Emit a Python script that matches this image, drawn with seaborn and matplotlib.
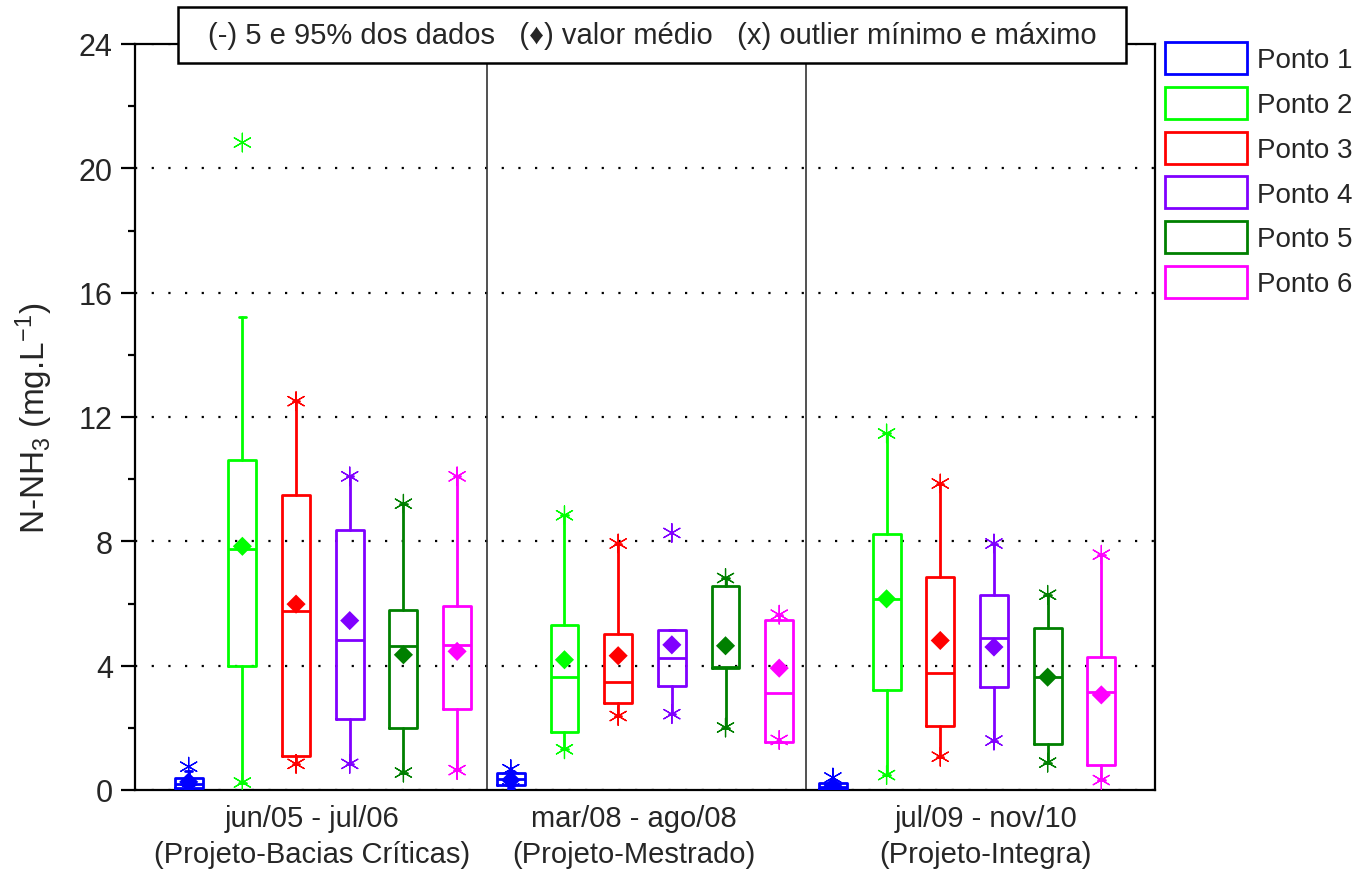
import numpy as np
import pandas as pd
import matplotlib
matplotlib.use("Agg")
import matplotlib.pyplot as plt
from matplotlib.patches import Patch, Rectangle
from matplotlib.ticker import MultipleLocator
import seaborn as sns

# ---- data -------------------------------------------------------------
periods = [
    "jun/05 - jul/06\n(Projeto-Bacias Críticas)",
    "mar/08 - ago/08\n(Projeto-Mestrado)",
    "jul/09 - nov/10\n(Projeto-Integra)",
]
pontos = ["Ponto 1", "Ponto 2", "Ponto 3", "Ponto 4", "Ponto 5", "Ponto 6"]
colors = ["#0000FF", "#00FF00", "#FF0000", "#8000FF", "#008000", "#FF00FF"]

# summary statistics, period by period, Ponto 1..6 inside each period
p05 = [0.02, 0.24, 0.84, 0.84, 0.56, 0.64,
       0.05, 1.31, 2.38, 2.44, 2.01, 1.56,
       0.02, 0.48, 1.07, 1.59, 0.88, 0.32]
q1 = [0.07, 4.00, 1.10, 2.29, 1.98, 2.61,
      0.16, 1.88, 2.79, 3.33, 3.92, 1.56,
      0.03, 3.22, 2.07, 3.30, 1.47, 0.81]
median = [0.20, 7.76, 5.77, 4.84, 4.62, 4.68,
          0.35, 3.65, 3.49, 4.24, 3.95, 3.11,
          0.10, 6.15, 3.76, 4.89, 3.65, 3.15]
q3 = [0.38, 10.63, 9.50, 8.38, 5.80, 5.91,
      0.54, 5.32, 5.03, 5.15, 6.57, 5.48,
      0.22, 8.25, 6.85, 6.26, 5.20, 4.28]
p95 = [0.62, 15.22, 12.51, 10.09, 9.21, 10.09,
       0.62, 8.84, 7.93, 5.15, 6.82, 5.64,
       0.30, 11.47, 9.86, 7.93, 6.28, 7.57]
mean = [0.26, 7.84, 5.98, 5.45, 4.35, 4.46,
        0.32, 4.19, 4.32, 4.67, 4.64, 3.92,
        0.12, 6.15, 4.81, 4.60, 3.63, 3.06]
vmin = [0.02, 0.24, 0.84, 0.84, 0.56, 0.64,
        0.05, 1.31, 2.38, 2.44, 2.01, 1.61,
        0.02, 0.48, 1.07, 1.59, 0.88, 0.32]
vmax = [0.75, 20.83, 12.51, 10.09, 9.21, 10.09,
        0.67, 8.84, 7.93, 8.27, 6.82, 5.64,
        0.40, 11.47, 9.86, 7.93, 6.28, 7.57]

# ---- style ------------------------------------------------------------
sns.set_style("ticks")
plt.rcParams["font.family"] = ["Liberation Sans", "DejaVu Sans"]
plt.rcParams["mathtext.fontset"] = "custom"
plt.rcParams["mathtext.rm"] = "Liberation Sans"
plt.rcParams["mathtext.it"] = "Liberation Sans:italic"
plt.rcParams["mathtext.bf"] = "Liberation Sans:bold"

fig = plt.figure(figsize=(13.65, 8.7), dpi=100)
ax = fig.add_axes([135 / 1365, 1 - 791 / 870, 1020 / 1365, 746 / 870])

n = len(pontos) * len(periods)
positions = np.arange(1, n + 1)
point_names = [pontos[i % 6] for i in range(n)]
box_colors = [colors[i % 6] for i in range(n)]

df = pd.DataFrame({
    "pos": positions, "ponto": point_names, "p05": p05, "q1": q1,
    "median": median, "q3": q3, "p95": p95, "mean": mean,
    "vmin": vmin, "vmax": vmax,
})

# boxes (25-75 %), median line and whiskers to the 5 / 95 % values
stats = [dict(med=r.median, q1=r.q1, q3=r.q3, whislo=r.p05, whishi=r.p95, fliers=[])
         for r in df.itertuples()]
lw = 2.0
art = ax.bxp(stats, positions=positions, widths=0.52, capwidths=0.12,
             showfliers=False, manage_ticks=False,
             boxprops=dict(lw=lw), whiskerprops=dict(lw=lw),
             capprops=dict(lw=lw), medianprops=dict(lw=lw))
for i, c in enumerate(box_colors):
    art["boxes"][i].set_color(c)
    art["medians"][i].set_color(c)
    for k in (2 * i, 2 * i + 1):
        art["whiskers"][k].set_color(c)
        art["caps"][k].set_color(c)
for key in ("boxes", "medians", "whiskers", "caps"):
    for a in art[key]:
        a.set_zorder(3)

palette = dict(zip(pontos, colors))

# mean values
sns.scatterplot(data=df, x="pos", y="mean", hue="ponto", palette=palette,
                marker="D", s=95, linewidth=0, legend=False, ax=ax, zorder=4)

# minimum and maximum values
ext = pd.concat([
    df[["pos", "ponto"]].assign(value=df["vmin"]),
    df[["pos", "ponto"]].assign(value=df["vmax"]),
])
sns.scatterplot(data=ext, x="pos", y="value", hue="ponto", palette=palette,
                marker=(6, 2, 0), s=180, linewidth=0.9, legend=False, ax=ax,
                zorder=4)

# period separators
for xs in (6.56, 12.5):
    ax.axvline(xs, color="#333333", lw=1.2, zorder=2)

# axes
ax.set_xlim(0, 19)
ax.set_ylim(0, 24)
ax.set_yticks(np.arange(0, 25, 4))
ax.yaxis.set_minor_locator(MultipleLocator(2))
ax.grid(axis="y", which="major", color="black", lw=1.6, ls=(0, (1, 6.5)))
ax.set_axisbelow(True)

ax.set_xticks([3.3, 9.3, 15.85], labels=periods)
ax.tick_params(axis="x", length=0, pad=10, labelsize=21)
for lbl in ax.get_xticklabels():
    lbl.set_linespacing(1.35)
ax.tick_params(axis="y", which="major", direction="out", length=10, width=1.6,
               labelsize=22, pad=6, color="black")
ax.tick_params(axis="y", which="minor", direction="out", length=5, width=1.6,
               color="black")
ax.set_xlabel("")
ax.set_ylabel(r"N-NH$_3$ (mg.L$^{-1}$)", fontsize=24)
ax.yaxis.set_label_coords(-0.078, 0.5)

for s in ax.spines.values():
    s.set_visible(True)
    s.set_linewidth(1.6)
    s.set_color("black")

# legend
fs = 20
fs_px = fs * 100 / 72
hh = (32 / fs_px - 0.245) / 0.65
handles = [Patch(facecolor="white", edgecolor=c, lw=2, label=p)
           for p, c in zip(pontos, colors)]
fig.legend(handles=handles, loc="upper left",
           bbox_to_anchor=(1165 / 1365, 1 - 43 / 870), frameon=False,
           fontsize=fs, handlelength=82 / fs_px, handleheight=hh,
           labelspacing=0.46, handletextpad=10 / fs_px,
           borderpad=0, borderaxespad=0)

# key to the symbols, boxed over the top of the plot
fig.add_artist(Rectangle((178 / 1365, 1 - 64 / 870), 948 / 1365, 56 / 870,
                         transform=fig.transFigure, facecolor="white",
                         edgecolor="black", lw=1.8, zorder=5))
fig.text(652 / 1365, 1 - 36 / 870,
         "(-) 5 e 95% dos dados   (\u2666) valor médio   (x) outlier mínimo e máximo",
         ha="center", va="center", fontsize=21, zorder=6)

fig.savefig("out.png", dpi=100)
